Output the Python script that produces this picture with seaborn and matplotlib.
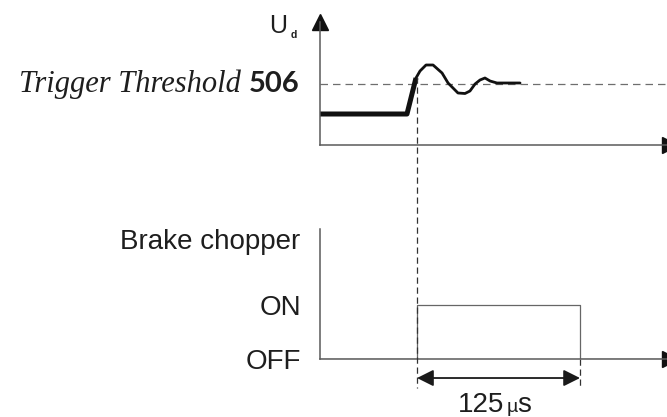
import matplotlib
matplotlib.use("Agg")
import matplotlib.pyplot as plt
import matplotlib.transforms as mtransforms
import numpy as np
import pandas as pd
import seaborn as sns

# DC link voltage response around the trigger (time in µs, trigger at t = 0)
time_us = [-74.4, -7.7, -0.8, 2.3, 6.9, 12.3, 19.2, 23.8, 27.6, 31.4,
           36.8, 40.6, 44.5, 48.3, 52.1, 56.0, 61.3, 79.0]
ud_volts = [476, 476, 512, 519, 525, 525, 517, 507, 502, 497,
            496.5, 499, 506, 510, 512, 509, 507, 507]
trigger_threshold = 506

# Brake chopper state (steps-post)
chopper_t = [-74.4, 0, 125, 194]
chopper_state = [0, 1, 0, 0]
state_ticks = [0, 1]
state_labels = ["OFF", "ON"]
pulse_width_us = 125

sns.set_theme(style="white")
plt.rcParams["font.family"] = ["Liberation Sans", "DejaVu Sans"]

W, H = 667, 417
fig = plt.figure(figsize=(W / 100, H / 100), dpi=100)

def fx(px):
    return px / W

def fy(py):
    return 1 - py / H

axis_col = "#5a5a5a"
text_col = "#1e1e1e"
xlim = (-74.4, 194.0)

# upper panel: U_d
ax1 = fig.add_axes([fx(320), fy(145), fx(670) - fx(320), fy(22) - fy(145)])
# lower panel: brake chopper
ax2 = fig.add_axes([fx(320), fy(359), fx(670) - fx(320), fy(229) - fy(359)])

for ax in (ax1, ax2):
    ax.set_facecolor("none")
    ax.set_xlim(*xlim)
    for s in ("top", "right"):
        ax.spines[s].set_visible(False)
    for s in ("left", "bottom"):
        ax.spines[s].set_color(axis_col)
        ax.spines[s].set_linewidth(1.1)
    ax.set_xticks([])
    # arrow on the time axis
    ax.plot([1], [0], marker=">", markersize=11, color="#111111",
            transform=ax.transAxes, clip_on=False)
    ax.text(1.0, -0.06, "t", transform=ax.transAxes, ha="left", va="top",
            fontsize=14, color=text_col, clip_on=False)

ax1.set_ylim(445, 568)
ax1.set_yticks([])
ax1.plot([0], [1], marker="^", markersize=11, color="#111111",
         transform=ax1.transAxes, clip_on=False)

ax1.axhline(trigger_threshold, color="#6e6e6e", lw=0.9, dashes=(6, 4))

sig = pd.DataFrame({"t": time_us, "u": ud_volts})
sns.lineplot(data=sig.iloc[:3], x="t", y="u", ax=ax1, color="#111111",
             lw=3.6, sort=False, estimator=None, solid_capstyle="butt")
sns.lineplot(data=sig.iloc[2:], x="t", y="u", ax=ax1, color="#111111",
             lw=2.0, sort=False, estimator=None, solid_joinstyle="round")
ax1.set_xlabel("")
ax1.set_ylabel("")
ax1.set_xticks([])

ax2.set_ylim(0, 2.407)
ax2.set_yticks(state_ticks, state_labels)
ax2.tick_params(axis="y", length=0, pad=13.5, labelsize=20, labelcolor=text_col)

chop = pd.DataFrame({"t": chopper_t, "s": chopper_state})
sns.lineplot(data=chop, x="t", y="s", ax=ax2, color="#666666", lw=0.9,
             sort=False, estimator=None, drawstyle="steps-post")
ax2.set_xlabel("")
ax2.set_ylabel("")
ax2.set_xticks([])

ax2.text(-0.055, 2.167, "Brake chopper",
         transform=mtransforms.blended_transform_factory(ax2.transAxes, ax2.transData),
         ha="right", va="center", fontsize=20, color=text_col)

# trigger marker running through both panels
blend = mtransforms.blended_transform_factory(ax2.transData, fig.transFigure)
fig.add_artist(plt.Line2D([0, 0], [fy(77), fy(388)], transform=blend,
                          color="#333333", lw=0.9, dashes=(5, 3)))
ax2.plot([pulse_width_us, pulse_width_us], [0, -0.537], color="#333333",
         lw=0.9, dashes=(5, 3), clip_on=False)

# pulse width dimension
ax2.annotate("", xy=(pulse_width_us, -0.352), xytext=(0, -0.352),
             xycoords="data", textcoords="data", annotation_clip=False,
             arrowprops=dict(arrowstyle="<|-|>,head_length=0.5,head_width=0.25",
                             mutation_scale=20, color="#1a1a1a", lw=1.3,
                             shrinkA=0, shrinkB=0))
ax2.text(66.7, -0.98, f"{pulse_width_us}", ha="right", va="baseline",
         fontsize=20, color=text_col, clip_on=False)
ax2.text(69.0, -0.98, "µ", ha="left", va="baseline",
         fontsize=14, color=text_col, clip_on=False)
ax2.text(77.0, -0.98, "s", ha="left", va="baseline",
         fontsize=20, color=text_col, clip_on=False)

# labels of the voltage panel
fig.text(fx(287), fy(33), "U", ha="right", va="baseline", fontsize=18, color=text_col)
fig.text(fx(291), fy(38), "d", ha="left", va="baseline", fontsize=7.5,
         fontweight="bold", color=text_col)
fig.text(fx(241), fy(92), "Trigger Threshold", ha="right", va="baseline",
         fontsize=22, style="italic", family=["Liberation Serif", "DejaVu Serif"],
         color=text_col)
fig.text(fx(300), fy(92), f"{trigger_threshold}", ha="right", va="baseline",
         fontsize=21, fontweight="bold", family=["Lato", "DejaVu Sans"],
         color=text_col)

fig.savefig("out.png", dpi=100)
